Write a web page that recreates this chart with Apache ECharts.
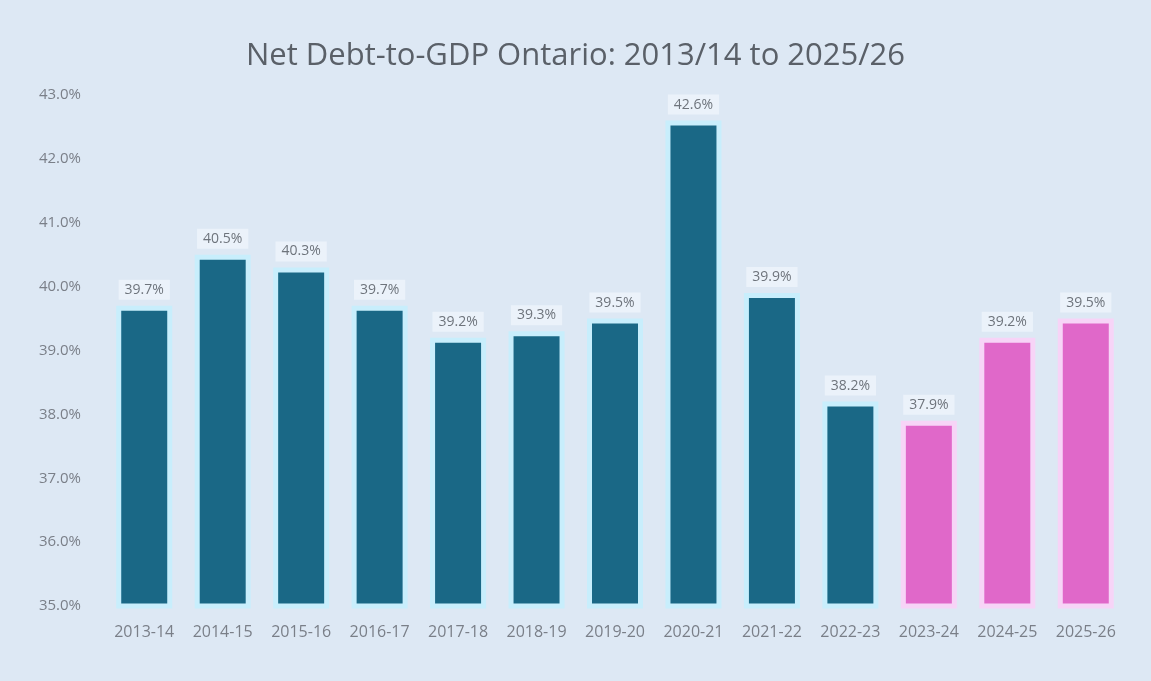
<!DOCTYPE html>
<html>
<head>
<meta charset="utf-8">
<script src="https://cdn.jsdelivr.net/npm/echarts@6/dist/echarts.min.js"></script>
<style>
html,body{margin:0;padding:0;background:#dde8f4;}
#c{width:1151px;height:681px;}
</style>
</head>
<body>
<div id="c"></div>
<script>
const categories = ["2013-14","2014-15","2015-16","2016-17","2017-18","2018-19","2019-20","2020-21","2021-22","2022-23","2023-24","2024-25","2025-26"];
const values = [39.7, 40.5, 40.3, 39.7, 39.2, 39.3, 39.5, 42.6, 39.9, 38.2, 37.9, 39.2, 39.5];
const projected = [false,false,false,false,false,false,false,false,false,false,true,true,true];
const yTicks = { min: 35, max: 43, interval: 1 };
const titleText = "Net Debt-to-GDP Ontario: 2013/14 to 2025/26";

const chart = echarts.init(document.getElementById('c'));
chart.setOption({
  backgroundColor: '#dde8f4',
  title: {
    text: titleText, left: 'center', top: 36,
    textStyle: { fontFamily: 'Open Sans', fontSize: 31, fontWeight: 'normal', color: '#5a6068' }
  },
  grid: { left: 105, right: 26, top: 95, bottom: 75 },
  xAxis: {
    type: 'category', data: categories,
    axisLine: { show: false }, axisTick: { show: false },
    axisLabel: { color: '#7a7f88', fontSize: 16, fontFamily: 'Open Sans', margin: 18 }
  },
  yAxis: {
    type: 'value', min: yTicks.min, max: yTicks.max, interval: yTicks.interval,
    splitLine: { show: false },
    axisLabel: { color: '#7a7f88', fontSize: 15, fontFamily: 'Open Sans', margin: 24,
      formatter: v => v.toFixed(1) + '%' }
  },
  series: [{
    type: 'bar',
    barWidth: 56,
    data: values.map((v, i) => ({
      value: v,
      itemStyle: projected[i]
        ? { color: '#e068c9', borderColor: '#f7d4f7', borderWidth: 5 }
        : { color: '#1a6886', borderColor: '#c8eefc', borderWidth: 5 }
    })),
    label: {
      show: true, position: 'top', distance: 6,
      formatter: p => p.value.toFixed(1) + '%',
      color: '#6e747c', fontSize: 14, fontFamily: 'Open Sans',
      backgroundColor: 'rgba(236,243,251,0.9)', padding: [3, 6]
    }
  }]
});
</script>
</body>
</html>
